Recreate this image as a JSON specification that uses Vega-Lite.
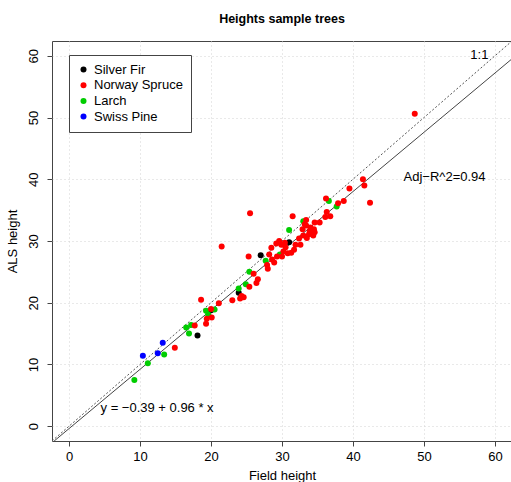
{
  "$schema": "https://vega.github.io/schema/vega-lite/v6.json",
  "width": 460,
  "height": 400,
  "autosize": {"type": "none"},
  "padding": {"left": 52, "top": 41, "right": 0, "bottom": 41},
  "background": "white",
  "title": {"text": "Heights sample trees", "font": "Liberation Sans", "fontSize": 12.5, "fontWeight": "bold", "color": "black", "anchor": "middle", "baseline": "alphabetic", "offset": 6},
  "config": {
    "view": {"stroke": "#444444", "strokeWidth": 1},
    "axis": {"domain": false, "tickColor": "#444444", "tickSize": 5, "labelFont": "Liberation Sans", "labelFontSize": 13, "labelColor": "black", "titleFont": "Liberation Sans", "titleFontSize": 13, "titleFontWeight": "normal", "titleColor": "black", "grid": true, "gridColor": "#d3d3d3", "gridDash": [1, 3], "gridWidth": 1},
    "legend": {"labelFont": "Liberation Sans"}
  },
  "datasets": {
    "trees": [
      {"field": 18.1, "als": 14.7, "species": "Silver Fir"},
      {"field": 20.0, "als": 18.8, "species": "Silver Fir"},
      {"field": 23.9, "als": 21.6, "species": "Silver Fir"},
      {"field": 27.0, "als": 27.7, "species": "Silver Fir"},
      {"field": 31.0, "als": 29.8, "species": "Silver Fir"},
      {"field": 10.4, "als": 11.4, "species": "Swiss Pine"},
      {"field": 12.5, "als": 11.8, "species": "Swiss Pine"},
      {"field": 13.2, "als": 13.5, "species": "Swiss Pine"},
      {"field": 9.2, "als": 7.5, "species": "Larch"},
      {"field": 11.1, "als": 10.2, "species": "Larch"},
      {"field": 13.4, "als": 11.6, "species": "Larch"},
      {"field": 16.5, "als": 16.0, "species": "Larch"},
      {"field": 16.9, "als": 15.0, "species": "Larch"},
      {"field": 17.2, "als": 16.4, "species": "Larch"},
      {"field": 19.3, "als": 18.7, "species": "Larch"},
      {"field": 19.6, "als": 18.1, "species": "Larch"},
      {"field": 20.5, "als": 18.9, "species": "Larch"},
      {"field": 23.9, "als": 22.3, "species": "Larch"},
      {"field": 24.9, "als": 23.0, "species": "Larch"},
      {"field": 25.4, "als": 25.0, "species": "Larch"},
      {"field": 27.7, "als": 26.8, "species": "Larch"},
      {"field": 29.7, "als": 27.8, "species": "Larch"},
      {"field": 31.0, "als": 31.8, "species": "Larch"},
      {"field": 33.0, "als": 33.2, "species": "Larch"},
      {"field": 36.6, "als": 36.5, "species": "Larch"},
      {"field": 37.7, "als": 35.6, "species": "Larch"},
      {"field": 14.9, "als": 12.7, "species": "Norway Spruce"},
      {"field": 17.7, "als": 16.3, "species": "Norway Spruce"},
      {"field": 18.6, "als": 20.5, "species": "Norway Spruce"},
      {"field": 19.3, "als": 16.6, "species": "Norway Spruce"},
      {"field": 19.4, "als": 17.4, "species": "Norway Spruce"},
      {"field": 20.1, "als": 17.6, "species": "Norway Spruce"},
      {"field": 20.0, "als": 19.0, "species": "Norway Spruce"},
      {"field": 21.1, "als": 19.9, "species": "Norway Spruce"},
      {"field": 21.5, "als": 29.1, "species": "Norway Spruce"},
      {"field": 23.0, "als": 20.4, "species": "Norway Spruce"},
      {"field": 24.1, "als": 20.7, "species": "Norway Spruce"},
      {"field": 24.3, "als": 21.1, "species": "Norway Spruce"},
      {"field": 24.6, "als": 20.9, "species": "Norway Spruce"},
      {"field": 25.4, "als": 22.6, "species": "Norway Spruce"},
      {"field": 26.4, "als": 23.2, "species": "Norway Spruce"},
      {"field": 26.6, "als": 23.8, "species": "Norway Spruce"},
      {"field": 26.0, "als": 24.7, "species": "Norway Spruce"},
      {"field": 25.3, "als": 27.5, "species": "Norway Spruce"},
      {"field": 25.5, "als": 34.5, "species": "Norway Spruce"},
      {"field": 27.9, "als": 26.1, "species": "Norway Spruce"},
      {"field": 28.0, "als": 25.5, "species": "Norway Spruce"},
      {"field": 28.2, "als": 27.8, "species": "Norway Spruce"},
      {"field": 28.5, "als": 28.9, "species": "Norway Spruce"},
      {"field": 29.2, "als": 29.6, "species": "Norway Spruce"},
      {"field": 29.6, "als": 30.0, "species": "Norway Spruce"},
      {"field": 29.9, "als": 29.4, "species": "Norway Spruce"},
      {"field": 30.4, "als": 29.7, "species": "Norway Spruce"},
      {"field": 30.2, "als": 28.3, "species": "Norway Spruce"},
      {"field": 30.8, "als": 28.0, "species": "Norway Spruce"},
      {"field": 29.3, "als": 27.5, "species": "Norway Spruce"},
      {"field": 28.6, "als": 27.0, "species": "Norway Spruce"},
      {"field": 28.9, "als": 26.5, "species": "Norway Spruce"},
      {"field": 30.0, "als": 27.5, "species": "Norway Spruce"},
      {"field": 31.3, "als": 28.1, "species": "Norway Spruce"},
      {"field": 31.7, "als": 28.6, "species": "Norway Spruce"},
      {"field": 30.5, "als": 29.0, "species": "Norway Spruce"},
      {"field": 31.5, "als": 34.0, "species": "Norway Spruce"},
      {"field": 31.9, "als": 29.4, "species": "Norway Spruce"},
      {"field": 32.6, "als": 29.4, "species": "Norway Spruce"},
      {"field": 32.4, "als": 30.4, "species": "Norway Spruce"},
      {"field": 32.9, "als": 31.9, "species": "Norway Spruce"},
      {"field": 33.0, "als": 30.9, "species": "Norway Spruce"},
      {"field": 33.5, "als": 30.5, "species": "Norway Spruce"},
      {"field": 33.8, "als": 31.1, "species": "Norway Spruce"},
      {"field": 34.4, "als": 30.9, "species": "Norway Spruce"},
      {"field": 33.9, "als": 31.6, "species": "Norway Spruce"},
      {"field": 34.6, "als": 31.4, "species": "Norway Spruce"},
      {"field": 34.5, "als": 31.9, "species": "Norway Spruce"},
      {"field": 34.0, "als": 32.2, "species": "Norway Spruce"},
      {"field": 33.4, "als": 32.5, "species": "Norway Spruce"},
      {"field": 33.4, "als": 33.4, "species": "Norway Spruce"},
      {"field": 33.2, "als": 32.7, "species": "Norway Spruce"},
      {"field": 34.6, "als": 33.0, "species": "Norway Spruce"},
      {"field": 35.3, "als": 33.0, "species": "Norway Spruce"},
      {"field": 36.1, "als": 33.9, "species": "Norway Spruce"},
      {"field": 36.8, "als": 34.0, "species": "Norway Spruce"},
      {"field": 36.3, "als": 34.7, "species": "Norway Spruce"},
      {"field": 36.2, "als": 36.9, "species": "Norway Spruce"},
      {"field": 37.9, "als": 36.1, "species": "Norway Spruce"},
      {"field": 38.7, "als": 36.5, "species": "Norway Spruce"},
      {"field": 39.5, "als": 38.5, "species": "Norway Spruce"},
      {"field": 41.4, "als": 40.0, "species": "Norway Spruce"},
      {"field": 41.6, "als": 39.0, "species": "Norway Spruce"},
      {"field": 42.4, "als": 36.2, "species": "Norway Spruce"},
      {"field": 48.7, "als": 50.6, "species": "Norway Spruce"}
    ],
    "oneone": [{"field": -2.4, "als": -2.4}, {"field": 62.4, "als": 62.4}],
    "fit": [{"field": -2.1, "als": -2.406}, {"field": 62.4, "als": 59.514}],
    "labels": [
      {"field": 57.8, "als": 60.2, "label": "1:1"},
      {"field": 52.9, "als": 40.3, "label": "Adj−R^2=0.94"},
      {"field": 12.4, "als": 3.0, "label": "y = −0.39 + 0.96 * x"}
    ]
  },
  "encoding": {
    "x": {"field": "field", "type": "quantitative", "scale": {"domain": [-2.4, 62.4], "nice": false, "zero": false}, "axis": {"values": [0, 10, 20, 30, 40, 50, 60], "title": "Field height", "labelPadding": 4, "titlePadding": 6}},
    "y": {"field": "als", "type": "quantitative", "scale": {"domain": [-2.4, 62.4], "nice": false, "zero": false}, "axis": {"values": [0, 10, 20, 30, 40, 50, 60], "title": "ALS height", "labelAngle": -90, "labelAlign": "center", "labelBaseline": "bottom", "labelPadding": 7, "titlePadding": 8}}
  },
  "layer": [
    {"data": {"name": "oneone"}, "mark": {"type": "line", "color": "#555555", "strokeWidth": 1, "strokeDash": [2, 2], "clip": true}},
    {"data": {"name": "fit"}, "mark": {"type": "line", "color": "#444444", "strokeWidth": 1, "clip": true}},
    {"data": {"name": "trees"}, "mark": {"type": "point", "filled": true, "size": 36, "opacity": 1},
      "encoding": {"color": {"field": "species", "type": "nominal",
        "scale": {"domain": ["Silver Fir", "Norway Spruce", "Larch", "Swiss Pine"], "range": ["#000000", "#FF0000", "#00CD00", "#0000FF"]},
        "legend": {"title": null, "orient": "none", "legendX": 17, "legendY": 14, "fillColor": "white", "strokeColor": "#444444", "padding": 8, "labelFontSize": 13, "labelColor": "black", "symbolType": "circle", "symbolSize": 36, "symbolStrokeWidth": 0, "labelOffset": 4, "rowPadding": 1.7}}}},
    {"data": {"name": "labels"}, "mark": {"type": "text", "font": "Liberation Sans", "fontSize": 13, "color": "black", "align": "center", "baseline": "middle"},
      "encoding": {"text": {"field": "label"}}}
  ]
}
